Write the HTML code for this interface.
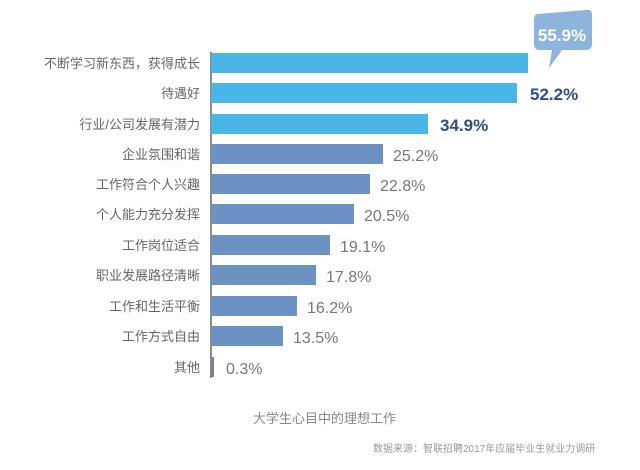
<!DOCTYPE html>
<html><head><meta charset="utf-8"><style>
body{margin:0;background:#fff;}
svg text{font-family:"Liberation Sans","Noto Sans CJK SC",sans-serif;}
</style></head><body>
<svg width="640" height="465" xmlns="http://www.w3.org/2000/svg">
<rect width="640" height="465" fill="#fff"/>
<line x1="211" y1="52" x2="211" y2="378" stroke="#666" stroke-width="1.5"/>
<g font-size="13" fill="#666" text-anchor="end">
<text x="200" y="68">不断学习新东西，获得成长</text>
<text x="200" y="98">待遇好</text>
<text x="200" y="129">行业/公司发展有潜力</text>
<text x="200" y="159">企业氛围和谐</text>
<text x="200" y="189">工作符合个人兴趣</text>
<text x="200" y="219">个人能力充分发挥</text>
<text x="200" y="250">工作岗位适合</text>
<text x="200" y="280">职业发展路径清晰</text>
<text x="200" y="311">工作和生活平衡</text>
<text x="200" y="341">工作方式自由</text>
<text x="200" y="372">其他</text>
</g>
<g fill="#4ab6e8">
<rect x="211" y="53" width="317" height="20"/>
<rect x="211" y="83" width="306" height="20"/>
<rect x="211" y="114" width="217" height="20"/>
</g>
<g fill="#6c92c4">
<rect x="211" y="144" width="172" height="20"/>
<rect x="211" y="174" width="159" height="20"/>
<rect x="211" y="204" width="143" height="20"/>
<rect x="211" y="235" width="119" height="20"/>
<rect x="211" y="265" width="105" height="20"/>
<rect x="211" y="296" width="86" height="20"/>
<rect x="211" y="326" width="72" height="20"/>
<rect x="211" y="357" width="3" height="20" fill="#7a7f98"/>
</g>
<path d="M538,14 Q534,14 534,20 L534,44 Q534,50 540,50 L552,50 L549,68 L562,50 L586,50 Q592,50 592,44 L592,14 Q592,9 586,10 Z" fill="#8db4dc"/>
<text x="562" y="41" font-size="17" font-weight="bold" fill="#fff" text-anchor="middle">55.9%</text>
<g font-size="17" font-weight="bold" fill="#2c4e8c">
<text x="530" y="100">52.2%</text>
<text x="440" y="131">34.9%</text>
</g>
<g font-size="16" fill="#777">
<text x="393" y="161">25.2%</text>
<text x="380" y="191">22.8%</text>
<text x="364" y="221">20.5%</text>
<text x="340" y="252">19.1%</text>
<text x="326" y="282">17.8%</text>
<text x="307" y="313">16.2%</text>
<text x="293" y="343">13.5%</text>
<text x="226" y="374">0.3%</text>
</g>
<text x="253" y="423" font-size="13" fill="#888">大学生心目中的理想工作</text>
<text x="373" y="452" font-size="10" fill="#999">数据来源：智联招聘2017年应届毕业生就业力调研</text>
</svg>
</body></html>
